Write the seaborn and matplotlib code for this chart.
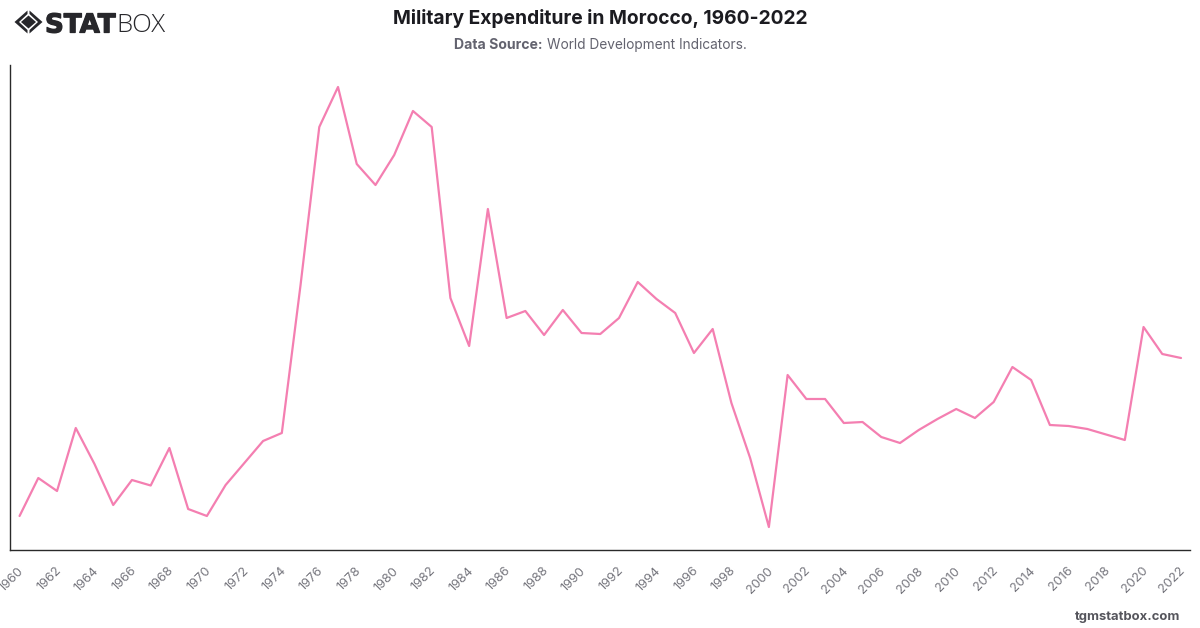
import matplotlib
matplotlib.use("Agg")
import matplotlib.pyplot as plt
from matplotlib.patches import Polygon
from matplotlib.patheffects import withStroke
from matplotlib.transforms import ScaledTranslation
import pandas as pd
import seaborn as sns

# Yearly series, in index points above the baseline of the axis
years = list(range(1960, 2023))
expenditure = [
    33, 71, 58, 121, 85, 44, 69, 63.5, 101, 40,
    33, 64, 86, 108, 116, 264, 422, 462, 385, 364,
    394, 438, 422, 251, 203, 340, 231, 238, 214, 239,
    216, 215, 231, 267, 250, 236, 196, 220, 146, 91,
    22, 174, 150, 150, 126, 127, 112, 106, 119, 130,
    140, 131, 147, 182, 169, 124, 123, 120, 114.5, 109,
    222, 195, 191,
]
tick_years = years[::2]

title_text = "Military Expenditure in Morocco, 1960-2022"
source_label = "Data Source:"
source_text = "World Development Indicators."
site_text = "tgmstatbox.com"

LINE_COLOR = "#f47fb1"
INK = "#1b1b20"
MUTED = "#63636f"

sns.set_theme(style="white", rc={"font.family": ["Inter", "DejaVu Sans"]})

W, H = 1200, 628
fig = plt.figure(figsize=(W / 100, H / 100), dpi=100, facecolor="white")
ax = fig.add_axes([10 / W, 1 - 549.5 / H, 1180 / W, 484.5 / H])

frame = pd.DataFrame({"year": years, "expenditure": expenditure})
sns.lineplot(data=frame, x="year", y="expenditure", color=LINE_COLOR, linewidth=1.6, ax=ax)

ax.set_xlim(1959.49, 2022.48)
ax.set_ylim(-0.5, 484)
ax.set_xlabel("")
ax.set_ylabel("")
ax.set_yticks([])
ax.set_xticks(tick_years)
ax.set_xticklabels([str(y) for y in tick_years], rotation=45, ha="right",
                   rotation_mode="anchor", fontsize=9.2, color="#77777f")
ax.tick_params(axis="x", length=0, pad=11)
nudge = ScaledTranslation(-2 / 100, 0, fig.dpi_scale_trans)
for label in ax.get_xticklabels():
    label.set_transform(label.get_transform() + nudge)
for side in ("top", "right"):
    ax.spines[side].set_visible(False)
for side in ("left", "bottom"):
    ax.spines[side].set_color("#2a2a2a")
    ax.spines[side].set_linewidth(1.0)


def px(x, y):
    return x / W, 1 - y / H


# Header and footer
fig.text(*px(600, 18.5), title_text, ha="center", va="center", fontsize=13.85,
         fontweight="bold", color=INK)
fig.text(*px(454.5, 45), source_label, ha="left", va="center", fontsize=10.1,
         fontweight="bold", color=MUTED)
fig.text(*px(547, 45), source_text, ha="left", va="center", fontsize=9.85, color=MUTED)
fig.text(*px(1180, 617), site_text, ha="right", va="center", fontsize=9.4,
         fontweight="bold", color="#55555c")

# Logo: faceted diamond emblem and wordmark
LOGO = "#27272b"
cx, cy = 28.5, 22
facets = [
    [(cx - 14, cy), (cx - 1, cy - 11.5), (cx - 1, cy - 8), (cx - 9.5, cy)],
    [(cx + 14, cy), (cx + 1, cy - 11.5), (cx + 1, cy - 8), (cx + 9.5, cy)],
    [(cx - 14, cy), (cx - 1, cy + 11.5), (cx - 1, cy + 8), (cx - 9.5, cy)],
    [(cx + 14, cy), (cx + 1, cy + 11.5), (cx + 1, cy + 8), (cx + 9.5, cy)],
    [(cx - 7.5, cy), (cx, cy - 6.5), (cx + 7.5, cy), (cx, cy + 6.5)],
]
for facet in facets:
    fig.add_artist(Polygon([px(*p) for p in facet], closed=True, transform=fig.transFigure,
                           facecolor=LOGO, edgecolor="none"))
fig.text(*px(45, 32.5), "STAT", ha="left", va="baseline", fontsize=18.8, fontweight="bold",
         family="DejaVu Sans", color=LOGO,
         path_effects=[withStroke(linewidth=0.9, foreground=LOGO)])
fig.text(*px(116.5, 32.5), "BOX", ha="left", va="baseline", fontsize=18.5, fontweight="light",
         family="Open Sans", color=LOGO)

fig.savefig("out.png", dpi=100)
